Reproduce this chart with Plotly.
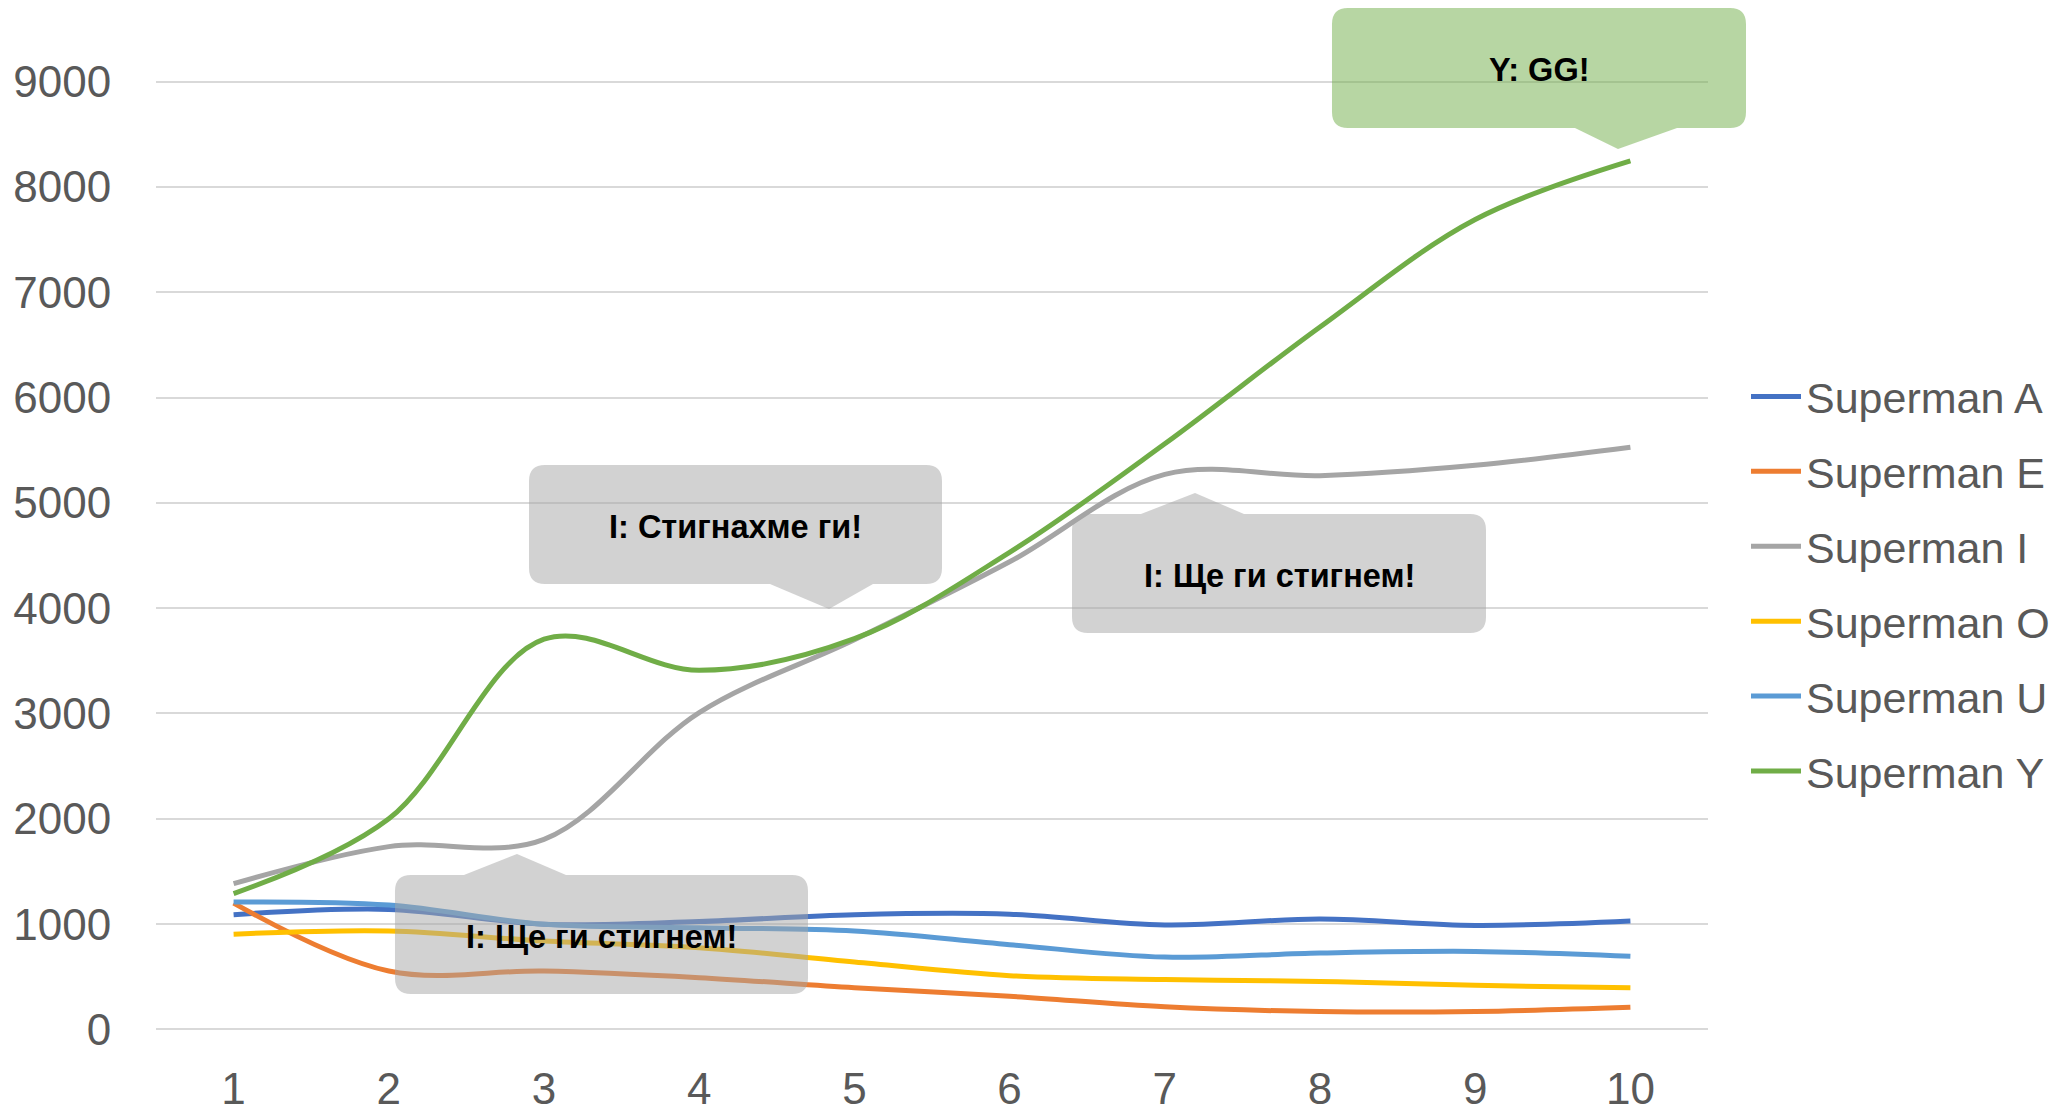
import plotly.graph_objects as go

# ---------------- data ----------------
x_vals = [1, 2, 3, 4, 5, 6, 7, 8, 9, 10]
superman_a = [1090, 1140, 1000, 1025, 1090, 1095, 993, 1048, 988, 1030]
superman_e = [1200, 555, 555, 492, 396, 315, 215, 170, 170, 210]
superman_i = [1384, 1736, 1805, 3009, 3700, 4440, 5270, 5258, 5356, 5527]
superman_o = [905, 934, 840, 776, 640, 511, 474, 456, 419, 395]
superman_u = [1210, 1181, 998, 966, 934, 805, 687, 726, 741, 696]
superman_y = [1290, 2000, 3705, 3410, 3710, 4530, 5560, 6670, 7690, 8247]

series_names = ["Superman A", "Superman E", "Superman I",
                "Superman O", "Superman U", "Superman Y"]
series_values = [superman_a, superman_e, superman_i,
                 superman_o, superman_u, superman_y]
series_colors = ["#4472C4", "#ED7D31", "#A5A5A5",
                 "#FFC000", "#5B9BD5", "#70AD47"]

y_ticks = [0, 1000, 2000, 3000, 4000, 5000, 6000, 7000, 8000, 9000]

callout_texts = ["I: Стигнахме ги!", "I: Ще ги стигнем!",
                 "I: Ще ги стигнем!", "Y: GG!"]

# ---------------- layout geometry ----------------
W, H = 2063, 1112
ML, MR, MT, MB = 156, 355, 71, 72
PW = W - ML - MR
PH = H - MT - MB
FONT = "Liberation Sans, Arial, sans-serif"
TXT = "#595959"


def px(x):
    return (x - ML) / PW


def py(y):
    return (H - MB - y) / PH


def pt(x, y):
    return f"{px(x):.5f},{py(y):.5f}"


def callout_path(L, T, R, B, bl, br, tx, ty, side, r=16):
    p = [f"M{pt(L + r, T)}"]
    if side == "top":
        p += [f"L{pt(bl, T)}", f"L{pt(tx, ty)}", f"L{pt(br, T)}"]
    p += [f"L{pt(R - r, T)}", f"Q{pt(R, T)} {pt(R, T + r)}",
          f"L{pt(R, B - r)}", f"Q{pt(R, B)} {pt(R - r, B)}"]
    if side == "bottom":
        p += [f"L{pt(br, B)}", f"L{pt(tx, ty)}", f"L{pt(bl, B)}"]
    p += [f"L{pt(L + r, B)}", f"Q{pt(L, B)} {pt(L, B - r)}",
          f"L{pt(L, T + r)}", f"Q{pt(L, T)} {pt(L + r, T)}", "Z"]
    return " ".join(p)


# callout boxes: (L, T, R, B, base_left, base_right, tip_x, tip_y, side, color)
callouts = [
    (529, 465, 942, 584, 770, 873, 829, 609, "bottom", "#A5A5A5"),
    (1072, 514, 1486, 633, 1141, 1244, 1195, 493, "top", "#A5A5A5"),
    (395, 875, 808, 994, 464, 566, 517, 854, "top", "#A5A5A5"),
    (1332, 8, 1746, 128, 1575, 1677, 1618, 149, "bottom", "#70AD47"),
]

fig = go.Figure()
for name, vals, col in zip(series_names, series_values, series_colors):
    fig.add_trace(go.Scatter(
        x=x_vals, y=vals, mode="lines", name=name, legendgroup=name,
        line=dict(color=col, width=5, shape="spline", smoothing=1.0),
        hoverinfo="skip",
    ))

shapes = []
annotations = []
for (L, T, R, B, bl, br, tx, ty, side, col), text in zip(callouts, callout_texts):
    shapes.append(dict(
        type="path", path=callout_path(L, T, R, B, bl, br, tx, ty, side),
        xref="paper", yref="paper", fillcolor=col, opacity=0.5,
        line=dict(width=0), layer="above",
    ))
    annotations.append(dict(
        text=f"<b>{text}</b>", x=px((L + R) / 2), y=py((T + B) / 2 + 2),
        xref="paper", yref="paper", showarrow=False,
        xanchor="center", yanchor="middle",
        font=dict(family=FONT, size=32.5, color="#000000"),
    ))

fig.update_layout(
    width=W, height=H,
    margin=dict(l=ML, r=MR, t=MT, b=MB, autoexpand=False),
    paper_bgcolor="white", plot_bgcolor="white",
    font=dict(family=FONT, color=TXT),
    shapes=shapes, annotations=annotations,
    showlegend=True,
    legend=dict(
        x=px(1746), xanchor="left", y=py(584), yanchor="middle",
        font=dict(family=FONT, size=43, color=TXT),
        tracegroupgap=16, bgcolor="rgba(0,0,0,0)", itemwidth=50,
    ),
    xaxis=dict(
        range=[0.5, 10.5], tickvals=x_vals, showgrid=False, zeroline=False,
        showline=False, ticks="outside", ticklen=10,
        tickcolor="rgba(0,0,0,0)",
        tickfont=dict(family=FONT, size=44, color=TXT),
    ),
    yaxis=dict(
        range=[-100, 9100], tickvals=y_ticks, showgrid=True,
        gridcolor="#D9D9D9", gridwidth=1.5, zeroline=False, showline=False,
        ticks="outside", ticklen=35, tickcolor="rgba(0,0,0,0)",
        tickfont=dict(family=FONT, size=44, color=TXT),
    ),
)

fig.write_html(
    "out.html",
    config={"displayModeBar": False},
    post_script="document.body.style.margin='0';document.body.style.overflow='hidden';",
)
